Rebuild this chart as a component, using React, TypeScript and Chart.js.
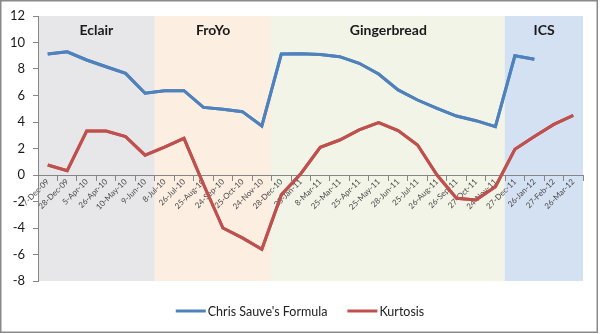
import React, { useEffect, useRef } from 'react';
import { Chart, registerables } from 'chart.js';

Chart.register(...registerables);

const categories = [
  '7-Dec-09', '28-Dec-09', '5-Apr-10', '26-Apr-10', '10-May-10', '9-Jun-10',
  '8-Jul-10', '26-Jul-10', '25-Aug-10', '24-Sep-10', '25-Oct-10', '24-Nov-10',
  '28-Dec-10', '25-Jan-11', '8-Mar-11', '25-Mar-11', '25-Apr-11', '25-May-11',
  '28-Jun-11', '25-Jul-11', '26-Aug-11', '26-Sep-11', '27-Oct-11', '24-Nov-11',
  '27-Dec-11', '26-Jan-12', '27-Feb-12', '26-Mar-12',
];

const sauveFormula: (number | null)[] = [
  9.13, 9.3, 8.68, 8.17, 7.67, 6.17,
  6.36, 6.36, 5.1, 4.96, 4.78, 3.7,
  9.13, 9.15, 9.1, 8.93, 8.43, 7.62,
  6.42, 5.66, 5.03, 4.45, 4.1, 3.65,
  9.0, 8.73, null, null,
];

const kurtosis = [
  0.75, 0.33, 3.32, 3.32, 2.9, 1.5,
  2.1, 2.77, -0.7, -4.0, -4.75, -5.6,
  -1.5, 0.1, 2.09, 2.64, 3.4, 3.95,
  3.35, 2.26, 0.0, -1.76, -1.89, -0.88,
  1.94, 2.9, 3.82, 4.5,
];

const releaseNames = ['Eclair', 'FroYo', 'Gingerbread', 'ICS'];
const releaseSpans = [6, 6, 12, 4];
const releaseColors = ['#e7e7ea', '#fdeee2', '#f1f4e6', '#d4e1f3'];

const yMin = -8;
const yMax = 12;
const yStep = 2;

const bandColorPerCategory: string[] = [];
releaseSpans.forEach((n, i) => {
  for (let k = 0; k < n; k++) bandColorPerCategory.push(releaseColors[i]);
});

const FONT = 'Lato, "Noto Sans", sans-serif';

const bandLabelPlugin = {
  id: 'bandLabels',
  afterDatasetsDraw(chart: any) {
    const ctx = chart.ctx;
    const x = chart.scales.x;
    ctx.save();
    ctx.font = `bold 14px ${FONT}`;
    ctx.fillStyle = '#1a1a1a';
    ctx.textAlign = 'center';
    ctx.textBaseline = 'middle';
    let start = 0;
    releaseNames.forEach((name, i) => {
      const end = start + releaseSpans[i] - 1;
      const cx = (x.getPixelForValue(start) + x.getPixelForValue(end)) / 2;
      ctx.fillText(name, cx, chart.chartArea.top + 14);
      start = end + 1;
    });
    ctx.restore();
  },
};

const frameLegendPlugin = {
  id: 'frameLegend',
  beforeDraw(chart: any) {
    const ctx = chart.ctx;
    ctx.save();
    ctx.fillStyle = '#ffffff';
    ctx.fillRect(0, 0, chart.width, chart.height);
    ctx.restore();
  },
  afterDraw(chart: any) {
    const ctx = chart.ctx;
    chart.data.datasets.forEach((d: any, i: number) => {
      if (d.type === 'line') {
        const meta = chart.getDatasetMeta(i);
        ctx.save();
        meta.controller.draw();
        ctx.restore();
      }
    });

    ctx.save();
    ctx.strokeStyle = '#8a8a8a';
    ctx.lineWidth = 1.5;
    ctx.strokeRect(0.75, 0.75, chart.width - 3.5, chart.height - 2.5);

    const items = chart.data.datasets.filter((d: any) => d.type === 'line');
    ctx.font = `12.5px ${FONT}`;
    ctx.textBaseline = 'middle';
    ctx.textAlign = 'left';
    const lineW = 30;
    const gapText = 2;
    const gapItem = 20;
    const widths = items.map((d: any) => lineW + gapText + ctx.measureText(d.label).width);
    const total = widths.reduce((a: number, b: number) => a + b, 0) + gapItem * (items.length - 1);
    let px = chart.width / 2 - total / 2;
    const py = 311;
    items.forEach((d: any, i: number) => {
      ctx.strokeStyle = d.borderColor;
      ctx.lineWidth = 3;
      ctx.beginPath();
      ctx.moveTo(px, py);
      ctx.lineTo(px + lineW, py);
      ctx.stroke();
      ctx.fillStyle = '#222222';
      ctx.fillText(d.label, px + lineW + gapText, py + 1);
      px += widths[i] + gapItem;
    });
    ctx.restore();
  },
};

export default function App() {
  const ref = useRef<HTMLCanvasElement | null>(null);
  useEffect(() => {
    if (!ref.current) return;
    const chart = new Chart(ref.current, {
      data: {
        labels: categories,
        datasets: [
          {
            type: 'line',
            label: "Chris Sauve's Formula",
            data: sauveFormula,
            borderColor: '#4f81bd',
            backgroundColor: '#4f81bd',
            borderWidth: 3,
            pointRadius: 0,
            tension: 0,
            order: 1,
          },
          {
            type: 'line',
            label: 'Kurtosis',
            data: kurtosis,
            borderColor: '#c0504d',
            backgroundColor: '#c0504d',
            borderWidth: 3,
            pointRadius: 0,
            tension: 0,
            order: 1,
          },
          {
            type: 'bar',
            label: 'Release',
            data: categories.map(() => [yMin, yMax]),
            backgroundColor: bandColorPerCategory,
            borderWidth: 0,
            barPercentage: 1,
            categoryPercentage: 1,
            order: 5,
          },
        ],
      } as any,
      options: {
        responsive: false,
        animation: false,
        layout: { padding: { left: 0, top: 16, right: 17, bottom: 53 } },
        plugins: {
          legend: { display: false },
          tooltip: { enabled: false },
        },
        scales: {
          x: {
            type: 'category',
            offset: true,
            position: { y: 0 } as any,
            grid: {
              offset: true,
              drawOnChartArea: false,
              drawTicks: true,
              tickLength: 5,
              color: '#868686',
              z: 1,
            } as any,
            border: { display: true, color: '#868686', width: 1, z: 1 } as any,
            ticks: {
              autoSkip: false,
              maxRotation: 45,
              minRotation: 45,
              padding: -3,
              color: '#4a4a4a',
              font: { family: FONT, size: 8 },
              z: 1,
            },
          },
          y: {
            min: yMin,
            max: yMax,
            afterFit: (scale: any) => {
              scale.width = 38;
            },
            grid: {
              drawOnChartArea: false,
              drawTicks: true,
              tickLength: 5,
              color: '#868686',
              z: 1,
            } as any,
            border: { display: true, color: '#868686', width: 1, z: 1 } as any,
            ticks: {
              stepSize: yStep,
              padding: 8,
              color: '#1a1a1a',
              font: { family: FONT, size: 13 },
            },
          },
        },
      },
      plugins: [bandLabelPlugin, frameLegendPlugin],
    });
    return () => chart.destroy();
  }, []);
  return (
    <div style={{ position: 'absolute', left: 0, top: 0, width: 600, height: 334 }}>
      <canvas ref={ref} width={600} height={334} />
    </div>
  );
}
